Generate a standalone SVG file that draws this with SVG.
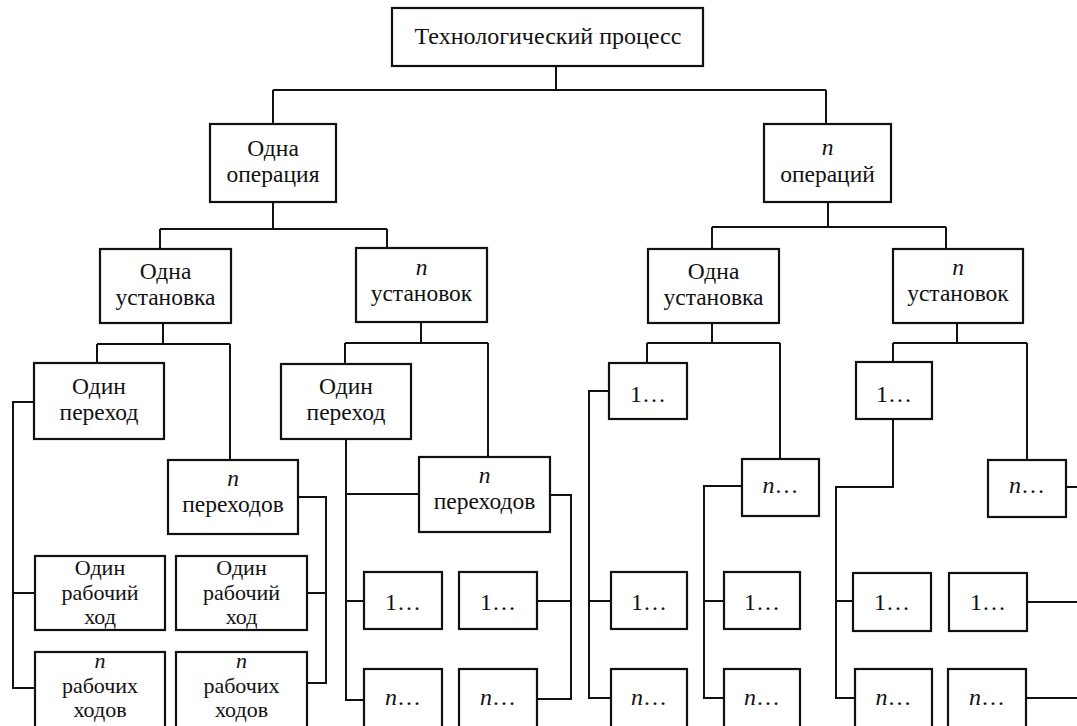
<svg xmlns="http://www.w3.org/2000/svg" width="1077" height="726" viewBox="0 0 1077 726">
<style>
rect.b{fill:#fff;stroke:#111;stroke-width:2.2}
text{font-family:"Liberation Serif","Times New Roman",serif;font-size:23.5px;fill:#111;text-anchor:middle}
text.one{font-size:24px}
text.s{font-size:22px}
.i{font-style:italic}
#connectors path{fill:none;stroke:#111;stroke-width:2}
</style>
<rect width="1077" height="726" fill="#fff"/>
<g id="connectors">
<path d="M556,66V90M273,90H826M273,90V124M826,90V124"/>
<path d="M273,202V229M160,229H387M160,229V249M387,229V248"/>
<path d="M828,202V227M712,227H946M712,227V249M946,227V249"/>
<path d="M163,323V344M97,344H230M97,344V363M230,344V460"/>
<path d="M34,402H13V688H35M13,593H35"/>
<path d="M298,497H326V683H307M326,593H307"/>
<path d="M421,322V343M345,343H488M345,343V364M488,343V457"/>
<path d="M346,439V700H364M346,494H419M346,601H364"/>
<path d="M550,495H571V699H537M571,601H537"/>
<path d="M712,323V343M647,343H780M647,343V363M780,343V459"/>
<path d="M609,391H589V698H611M589,601H611"/>
<path d="M742,486H704V698H724M704,601H724"/>
<path d="M957,323V343M893,343H1027M893,343V362M1027,343V460"/>
<path d="M893,419V487H836V698H855M836,601H853"/>
<path d="M1066,487H1080M1027,602H1080M1026,698H1080"/>
</g>
<g id="n-root"><rect class="b" x="392" y="8" width="311" height="58"/><text class="one" x="548" y="44">Технологический процесс</text></g>
<g id="n-op1"><rect class="b" x="210" y="124" width="126" height="78"/><text x="273" y="156">Одна</text><text x="273" y="182">операция</text></g>
<g id="n-opn"><rect class="b" x="764" y="124" width="127" height="78"/><text class="i" x="827.5" y="155">n</text><text x="827.5" y="182">операций</text></g>
<g id="n-ust1L"><rect class="b" x="100" y="249" width="131" height="74"/><text x="165.5" y="279">Одна</text><text x="165.5" y="305">установка</text></g>
<g id="n-ustnL"><rect class="b" x="356" y="248" width="131" height="74"/><text class="i" x="421.5" y="275">n</text><text x="421.5" y="301">установок</text></g>
<g id="n-ust1R"><rect class="b" x="648" y="249" width="131" height="74"/><text x="713.5" y="279">Одна</text><text x="713.5" y="305">установка</text></g>
<g id="n-ustnR"><rect class="b" x="893" y="249" width="130" height="74"/><text class="i" x="958" y="275">n</text><text x="958" y="301">установок</text></g>
<g id="n-per1a"><rect class="b" x="34" y="363" width="130" height="76"/><text x="99" y="394">Один</text><text x="99" y="420">переход</text></g>
<g id="n-pernA"><rect class="b" x="168" y="460" width="130" height="74"/><text class="i" x="233" y="486">n</text><text x="233" y="512">переходов</text></g>
<g id="n-per1b"><rect class="b" x="281" y="364" width="130" height="75"/><text x="346" y="394">Один</text><text x="346" y="420">переход</text></g>
<g id="n-pernB"><rect class="b" x="419" y="457" width="131" height="75"/><text class="i" x="484.5" y="483">n</text><text x="484.5" y="509">переходов</text></g>
<g id="n-rx1a"><rect class="b" x="35" y="556" width="130" height="74"/><text class="s" x="100" y="575">Один</text><text class="s" x="100" y="599.5">рабочий</text><text class="s" x="100" y="624">ход</text></g>
<g id="n-rx1b"><rect class="b" x="176" y="556" width="131" height="74"/><text class="s" x="241.5" y="575">Один</text><text class="s" x="241.5" y="599.5">рабочий</text><text class="s" x="241.5" y="624">ход</text></g>
<g id="n-rxna"><rect class="b" x="35" y="652" width="130" height="80"/><text class="s i" x="100" y="668">n</text><text class="s" x="100" y="692.5">рабочих</text><text class="s" x="100" y="717">ходов</text></g>
<g id="n-rxnb"><rect class="b" x="176" y="652" width="131" height="80"/><text class="s i" x="241.5" y="668">n</text><text class="s" x="241.5" y="692.5">рабочих</text><text class="s" x="241.5" y="717">ходов</text></g>
<g id="n-b1"><rect class="b" x="364" y="572" width="78" height="57"/><text class="one" x="403" y="610">1…</text></g>
<g id="n-b2"><rect class="b" x="459" y="572" width="78" height="57"/><text class="one" x="498" y="610">1…</text></g>
<g id="n-b3"><rect class="b" x="364" y="669" width="78" height="62"/><text class="one" x="403" y="705"><tspan class="i">n</tspan>…</text></g>
<g id="n-b4"><rect class="b" x="459" y="669" width="78" height="62"/><text class="one" x="498" y="705"><tspan class="i">n</tspan>…</text></g>
<g id="n-c1"><rect class="b" x="609" y="363" width="78" height="56"/><text class="one" x="648" y="402">1…</text></g>
<g id="n-c2"><rect class="b" x="742" y="459" width="77" height="57"/><text class="one" x="780.5" y="493"><tspan class="i">n</tspan>…</text></g>
<g id="n-c3"><rect class="b" x="611" y="572" width="76" height="57"/><text class="one" x="649" y="610">1…</text></g>
<g id="n-c4"><rect class="b" x="724" y="572" width="76" height="57"/><text class="one" x="762" y="610">1…</text></g>
<g id="n-c5"><rect class="b" x="611" y="669" width="76" height="62"/><text class="one" x="649" y="705"><tspan class="i">n</tspan>…</text></g>
<g id="n-c6"><rect class="b" x="724" y="669" width="76" height="62"/><text class="one" x="762" y="705"><tspan class="i">n</tspan>…</text></g>
<g id="n-d1"><rect class="b" x="856" y="362" width="76" height="57"/><text class="one" x="894" y="402">1…</text></g>
<g id="n-d2"><rect class="b" x="988" y="460" width="78" height="57"/><text class="one" x="1027" y="493"><tspan class="i">n</tspan>…</text></g>
<g id="n-d3"><rect class="b" x="853" y="573" width="78" height="58"/><text class="one" x="892" y="610">1…</text></g>
<g id="n-d4"><rect class="b" x="949" y="573" width="78" height="58"/><text class="one" x="988" y="610">1…</text></g>
<g id="n-d5"><rect class="b" x="855" y="669" width="77" height="62"/><text class="one" x="893.5" y="705"><tspan class="i">n</tspan>…</text></g>
<g id="n-d6"><rect class="b" x="948" y="669" width="78" height="62"/><text class="one" x="987" y="705"><tspan class="i">n</tspan>…</text></g>
</svg>
